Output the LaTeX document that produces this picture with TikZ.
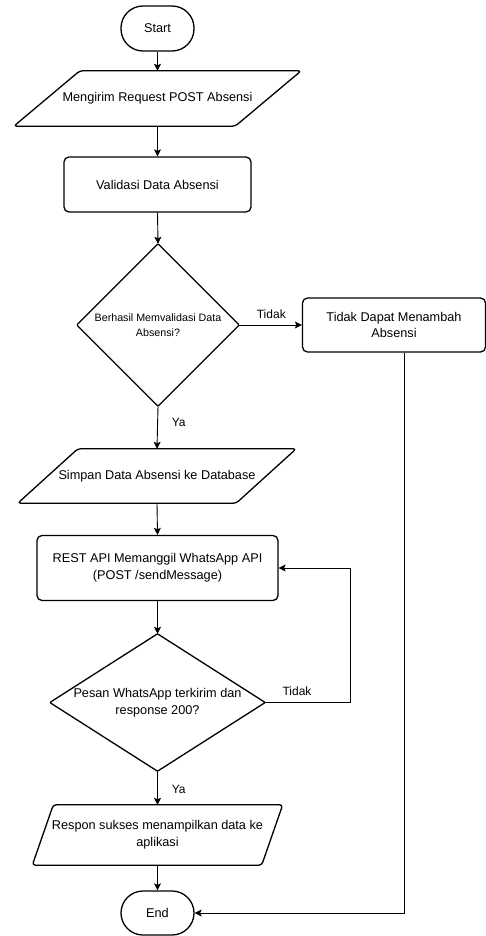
\documentclass[tikz,border=0pt]{standalone}
\usepackage{fontspec}
\setmainfont{Liberation Sans}
\usetikzlibrary{arrows.meta}
\begin{document}
\begin{tikzpicture}[x=1pt,y=-1pt,
  shapeline/.style={line width=1.3pt, line join=round},
  conn/.style={line width=0.9pt, -{Stealth[length=7pt,width=7pt,inset=1.5pt]}},
  plain/.style={line width=0.9pt},
  lbl/.style={font=\fontsize{12}{14}\selectfont, inner sep=0pt},
  txt/.style={font=\fontsize{12.7}{16.7}\selectfont, align=center, inner sep=0pt},
  smalltxt/.style={font=\fontsize{10.7}{15.3}\selectfont, align=center, inner sep=0pt},
  terminal/.style={txt, draw, shapeline, rounded corners=22pt, minimum width=73pt, minimum height=45pt},
  procbox/.style={txt, draw, shapeline, rounded corners=5pt},
]
\useasboundingbox (0,0) rectangle (486,936);

% nodes
\node[terminal] (start) at (157.5,28.5) {Start};
\node[txt, minimum width=287pt, minimum height=55pt] (in1) at (157.5,98.5) {Mengirim Request POST Absensi};
\draw[shapeline, rounded corners=3pt] ([xshift=66pt]in1.north west) -- (in1.north east) -- ([xshift=-66pt]in1.south east) -- (in1.south west) -- cycle;

\node[procbox, minimum width=187pt, minimum height=55pt] (val) at (157.5,184.5) {Validasi Data Absensi};

\node[smalltxt, minimum width=162pt, minimum height=162pt] (d1) at (158,325) {Berhasil Memvalidasi Data\\Absensi?};
\draw[shapeline, rounded corners=1pt] (d1.north) -- (d1.east) -- (d1.south) -- (d1.west) -- cycle;

\node[procbox, minimum width=183pt, minimum height=54pt] (fail) at (394,325) {Tidak Dapat Menambah\\Absensi};

\node[txt, minimum width=278pt, minimum height=54pt] (in2) at (157,476) {Simpan Data Absensi ke Database};
\draw[shapeline, rounded corners=3pt] ([xshift=60pt]in2.north west) -- (in2.north east) -- ([xshift=-60pt]in2.south east) -- (in2.south west) -- cycle;

\node[procbox, minimum width=241pt, minimum height=65pt] (rest) at (157.5,568) {REST API Memanggil WhatsApp API\\(POST /sendMessage)};

\node[txt, minimum width=215pt, minimum height=137pt] (d2) at (157.5,702.5) {Pesan WhatsApp terkirim dan\\response 200?};
\draw[shapeline, rounded corners=1pt] (d2.north) -- (d2.east) -- (d2.south) -- (d2.west) -- cycle;

\node[txt, minimum width=250pt, minimum height=60pt] (out) at (157.5,835) {Respon sukses menampilkan data ke\\aplikasi};
\draw[shapeline, rounded corners=3pt] ([xshift=21pt]out.north west) -- (out.north east) -- ([xshift=-21pt]out.south east) -- (out.south west) -- cycle;

\node[terminal, minimum height=44pt] (end) at (157.5,913) {End};

% connector helpers
\coordinate (loopx) at (350.7,0);
\coordinate (failx) at (404.7,0);

% connectors
\draw[conn] (start.south) -- (in1.north);
\draw[conn] (in1.south) -- (val.north);
\draw[conn] (val.south) -- (d1.north);
\draw[conn] (d1.east) -- (fail.west);
\draw[conn] (d1.south) -- (in2.north);
\draw[conn] (in2.south) -- (rest.north);
\draw[conn] (rest.south) -- (d2.north);
\draw[conn] (d2.east) -- (d2.east -| loopx) -- (rest.east -| loopx) -- (rest.east);
\draw[conn] (d2.south) -- (out.north);
\draw[conn] (out.south) -- (end.north);
\draw[conn] (fail.south -| failx) -- (end.east -| failx) -- (end.east);

% labels
\node[lbl] (t1) at (271.3,314.3) {Tidak};
\node[lbl] (y1) at (178.7,422.7) {Ya};
\node[lbl] (t2) at (297,691.7) {Tidak};
\node[lbl] (y2) at (178.7,789.3) {Ya};
\end{tikzpicture}
\end{document}
